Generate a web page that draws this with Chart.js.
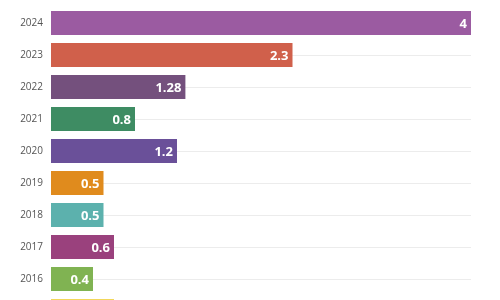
<!DOCTYPE html>
<html>
<head>
<meta charset="utf-8">
<script src="https://cdn.jsdelivr.net/npm/chart.js@4"></script>
<style>
html,body{margin:0;padding:0;background:#fff;overflow:hidden;}
#wrap{position:relative;width:500px;height:334px;}
</style>
</head>
<body>
<div id="wrap"><canvas id="c"></canvas></div>
<script>
const categories = ['2024','2023','2022','2021','2020','2019','2018','2017','2016','2015'];
const values = [4, 2.3, 1.28, 0.8, 1.2, 0.5, 0.5, 0.6, 0.4, 0.6];
const barColors = ['#9b5ba1','#d0604b','#74507d','#3e8c63','#6a5099','#e08b1d','#5cb1ad','#9a417d','#80b352','#f2d75a'];
const axisMin = 0, axisMax = 4;

const labelPlugin = {
  id: 'barLabels',
  afterDatasetsDraw(chart) {
    const ctx = chart.ctx;
    const meta = chart.getDatasetMeta(0);
    ctx.save();
    ctx.font = 'bold 13px "Open Sans", sans-serif';
    ctx.fillStyle = '#ffffff';
    ctx.textAlign = 'right';
    ctx.textBaseline = 'middle';
    meta.data.forEach((bar, i) => {
      ctx.fillText(String(values[i]), bar.x - 4, bar.y + 1);
    });
    ctx.restore();
  }
};

new Chart(document.getElementById('c'), {
  type: 'bar',
  data: {
    labels: categories,
    datasets: [{
      data: values,
      backgroundColor: barColors,
      borderWidth: 0,
      barPercentage: 0.75,
      categoryPercentage: 1.0
    }]
  },
  options: {
    indexAxis: 'y',
    responsive: true,
    maintainAspectRatio: false,
    animation: false,
    layout: { padding: { top: 7, right: 29, bottom: 7, left: 0 } },
    plugins: { legend: { display: false }, tooltip: { enabled: false } },
    scales: {
      x: { display: false, min: axisMin, max: axisMax },
      y: {
        afterFit(scale) { scale.width = 51; scale.paddingTop = 0; scale.paddingBottom = 0; },
        border: { display: false },
        grid: { offset: false, color: '#ececec', lineWidth: 1, drawTicks: false },
        ticks: { color: '#555555', padding: 8, font: { size: 10, family: '"Open Sans", sans-serif' } }
      }
    }
  },
  plugins: [labelPlugin]
});
</script>
</body>
</html>
